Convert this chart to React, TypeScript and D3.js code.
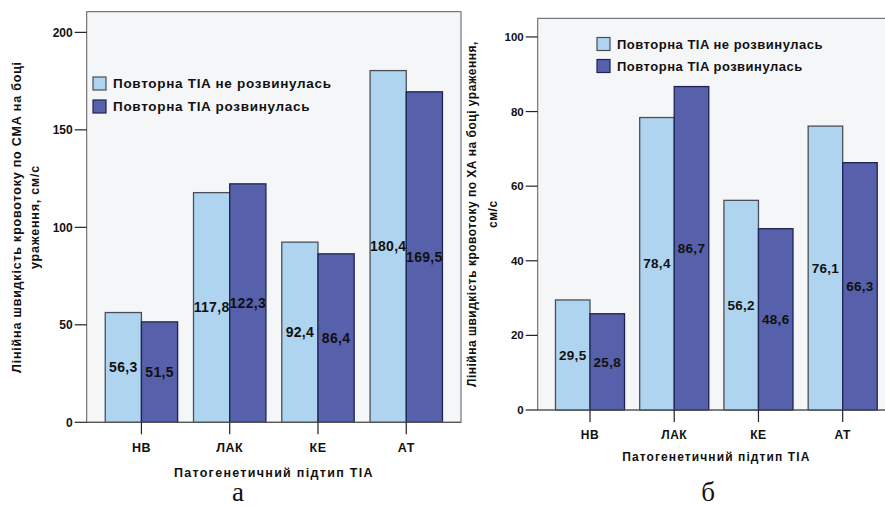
import React from "react";
import * as d3 from "d3";

// Categories (pathogenetic TIA subtypes) and group names
const categories = ["НВ", "ЛАК", "КЕ", "АТ"];
const seriesNames = ["Повторна TIA не розвинулась", "Повторна TIA розвинулась"];

// Panel а: linear blood flow velocity, СМА (cm/s)
const cmaNoRecurrence = [56.3, 117.8, 92.4, 180.4];
const cmaRecurrence = [51.5, 122.3, 86.4, 169.5];
const cmaTicks = [0, 50, 100, 150, 200];

// Panel б: linear blood flow velocity, ХА (cm/s)
const xaNoRecurrence = [29.5, 78.4, 56.2, 76.1];
const xaRecurrence = [25.8, 86.7, 48.6, 66.3];
const xaTicks = [0, 20, 40, 60, 80, 100];

const FONT = "'Liberation Sans', Arial, sans-serif";
const LIGHT = "#aed4ef";
const DARK = "#5660ab";
const PLOT_BG = "#f5f6f8";

type PanelProps = {
  left: number;
  top: number;
  right: number;
  bottom: number;
  yMax: number;
  ticks: number[];
  valuesA: number[];
  valuesB: number[];
  padding: number;
  yTitle: string[];
  yTitleX: number[];
  yTitleLs: number;
  xTitleY: number;
  xTitleLs: number;
  letter: string;
  letterX: number;
  fs: number;
  valueFs: number;
  legendFs: number;
  legendLs: number;
  legendX: number;
  legendY: number;
  legendGap: number;
};

function fmt(v: number) {
  return v.toFixed(1).replace(".", ",");
}

function Panel(p: PanelProps) {
  const y = d3.scaleLinear().domain([0, p.yMax]).range([p.bottom, p.top]);
  const x = d3.scalePoint<string>().domain(categories).range([p.left, p.right]).padding(p.padding);
  const bw = x.step() * 0.41;
  const midY = (p.top + p.bottom) / 2;
  const plotCenter = x(categories[0])! / 2 + x(categories[3])! / 2;
  const series = [
    { vals: p.valuesA, fill: LIGHT, stroke: "#4a4f57", off: -1 },
    { vals: p.valuesB, fill: DARK, stroke: "#1e2352", off: 0 },
  ];
  return (
    <g fontFamily={FONT} fontWeight="bold">
      <rect x={p.left} y={p.top} width={p.right - p.left} height={p.bottom - p.top} fill={PLOT_BG} stroke="#5a5a5a" strokeWidth={1} />
      {series.map((s, si) =>
        categories.map((c, i) => (
          <rect
            key={`${si}-${c}`}
            x={x(c)! + s.off * bw}
            y={y(s.vals[i])}
            width={bw}
            height={p.bottom - y(s.vals[i])}
            fill={s.fill}
            stroke={s.stroke}
            strokeWidth={1.3}
          />
        ))
      )}
      {series.map((s, si) =>
        categories.map((c, i) => (
          <text
            key={`l${si}-${c}`}
            x={x(c)! + s.off * bw + bw / 2}
            y={y(s.vals[i] / 2)}
            dy="0.35em"
            textAnchor="middle"
            fontSize={p.valueFs}
            letterSpacing={0.3}
            fill="#111"
          >
            {fmt(s.vals[i])}
          </text>
        ))
      )}
      {/* y axis */}
      {p.ticks.map((t) => (
        <g key={t}>
          <line x1={p.left - 12} x2={p.left} y1={y(t)} y2={y(t)} stroke="#222" strokeWidth={1.2} />
          <text x={p.left - 14} y={y(t)} dy="0.35em" textAnchor="end" fontSize={p.fs - 0.5} fill="#111">
            {t}
          </text>
        </g>
      ))}
      {/* x axis */}
      <line x1={p.left} x2={p.right} y1={p.bottom} y2={p.bottom} stroke="#555" strokeWidth={1.2} />
      {categories.map((c) => (
        <g key={c}>
          <line x1={x(c)} x2={x(c)} y1={p.bottom} y2={p.bottom + 12} stroke="#222" strokeWidth={1.2} />
          <text x={x(c)} y={p.bottom + 25} dy="0.35em" textAnchor="middle" fontSize={p.fs} letterSpacing={0.5} fill="#111">
            {c}
          </text>
        </g>
      ))}
      <text x={plotCenter} y={p.xTitleY} dy="0.35em" textAnchor="middle" fontSize={p.fs} letterSpacing={p.xTitleLs} fill="#111">
        Патогенетичний підтип TIA
      </text>
      {p.yTitle.map((line, i) => (
        <text
          key={i}
          transform={`translate(${p.yTitleX[i]},${midY}) rotate(-90)`}
          dy="0.35em"
          textAnchor="middle"
          fontSize={p.fs}
          letterSpacing={p.yTitleLs}
          fill="#111"
        >
          {line}
        </text>
      ))}
      {/* legend */}
      {seriesNames.map((n, i) => (
        <g key={n} transform={`translate(${p.legendX},${p.legendY + i * p.legendGap})`}>
          <rect x={0} y={-6.5} width={13} height={13} fill={series[i].fill} stroke={series[i].stroke} strokeWidth={1.2} />
          <text x={20} y={0} dy="0.35em" fontSize={p.legendFs} fill="#111" letterSpacing={p.legendLs}>
            {n}
          </text>
        </g>
      ))}
      {/* panel letter */}
      <text
        x={p.letterX}
        y={501}
        textAnchor="middle"
        fontFamily="'Liberation Serif', 'Times New Roman', serif"
        fontWeight="normal"
        fontSize={27}
        fill="#111"
      >
        {p.letter}
      </text>
    </g>
  );
}

export default function App() {
  return (
    <svg
      width={885}
      height={507}
      viewBox="0 0 885 507"
      style={{ position: "fixed", left: 0, top: 0, background: "#fff" }}
    >
      <Panel
        left={86.7}
        top={11.7}
        right={461}
        bottom={422.3}
        yMax={210.6}
        ticks={cmaTicks}
        valuesA={cmaNoRecurrence}
        valuesB={cmaRecurrence}
        padding={0.62}
        yTitle={["Лінійна швидкість кровотоку по СМА на боці", "ураження, см/с"]}
        yTitleX={[17, 35]}
        yTitleLs={0.8}
        xTitleY={473}
        xTitleLs={1.3}
        letter="а"
        letterX={238}
        fs={12.5}
        valueFs={14}
        legendFs={13.5}
        legendLs={0.7}
        legendX={93}
        legendY={83.5}
        legendGap={23}
      />
      <Panel
        left={537.7}
        top={18.3}
        right={895}
        bottom={410}
        yMax={105}
        ticks={xaTicks}
        valuesA={xaNoRecurrence}
        valuesB={xaRecurrence}
        padding={0.621}
        yTitle={["Лінійна швидкість кровотоку по ХА на боці ураження,", "см/с"]}
        yTitleX={[472, 493]}
        yTitleLs={0.5}
        xTitleY={457}
        xTitleLs={1.1}
        letter="б"
        letterX={708}
        fs={12}
        valueFs={13.5}
        legendFs={13}
        legendLs={0.5}
        legendX={597}
        legendY={44}
        legendGap={22}
      />
    </svg>
  );
}
